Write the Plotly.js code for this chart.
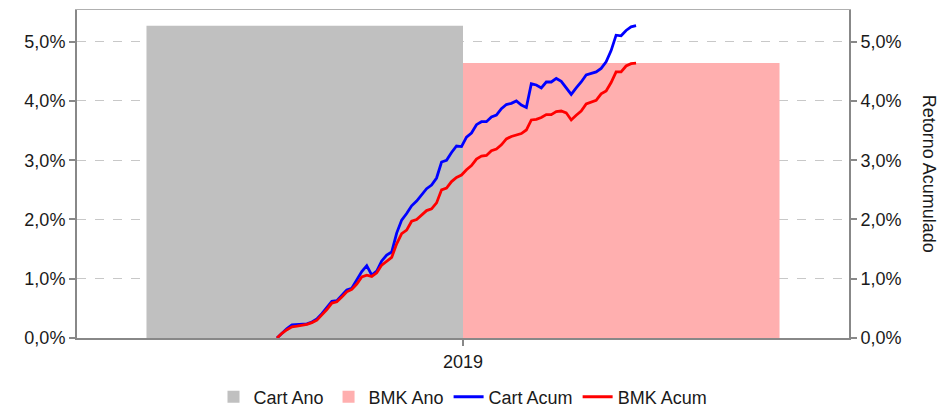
<!DOCTYPE html>
<html>
<head>
<meta charset="utf-8">
<script src="https://cdn.plot.ly/plotly-3.0.1.min.js"></script>
<style>html,body{margin:0;padding:0;background:#fff;}#chart{width:944px;height:409px;}</style>
</head>
<body>
<div id="chart"></div>
<script>
const categories = ['2019'];
const cartAno = [5.27];
const bmkAno = [4.64];

const cartAcum = [0.00,0.08,0.16,0.22,0.23,0.24,0.24,0.27,0.32,0.41,0.51,0.62,0.63,0.72,0.81,0.84,
  0.98,1.12,1.22,1.06,1.13,1.30,1.40,1.45,1.77,1.99,2.10,2.23,2.31,2.41,2.52,2.58,2.70,2.97,3.00,
  3.13,3.24,3.23,3.39,3.46,3.60,3.65,3.65,3.73,3.76,3.87,3.94,3.96,4.00,3.93,3.89,4.29,4.27,4.22,
  4.32,4.32,4.38,4.33,4.22,4.11,4.22,4.32,4.44,4.47,4.49,4.55,4.66,4.85,5.11,5.10,5.19,5.25,5.27];
const bmkAcum = [0.00,0.08,0.14,0.19,0.20,0.21,0.23,0.26,0.30,0.39,0.48,0.59,0.61,0.69,0.78,0.82,
  0.91,1.03,1.06,1.04,1.10,1.23,1.30,1.36,1.59,1.76,1.82,1.97,2.00,2.08,2.15,2.18,2.28,2.50,2.53,
  2.64,2.71,2.75,2.84,2.91,3.02,3.07,3.08,3.16,3.19,3.26,3.36,3.40,3.43,3.45,3.51,3.68,3.69,3.72,
  3.77,3.77,3.82,3.83,3.80,3.68,3.76,3.83,3.95,3.98,4.01,4.12,4.17,4.31,4.49,4.49,4.59,4.63,4.64];
const days = cartAcum.map((_, i) => i);

const yTickVals = [0, 1, 2, 3, 4, 5];
const yTickText = ['0,0%', '1,0%', '2,0%', '3,0%', '4,0%', '5,0%'];

const FONT = 'Liberation Sans, Arial, sans-serif';
const AXC = '#888888';
const yRange = [0, 5.535];

const data = [
  {type:'bar', name:'Cart Ano', x:categories, y:cartAno, marker:{color:'#c0c0c0'}, xaxis:'x', yaxis:'y', hoverinfo:'skip'},
  {type:'bar', name:'BMK Ano', x:categories, y:bmkAno, marker:{color:'#ffafaf'}, xaxis:'x', yaxis:'y', hoverinfo:'skip'},
  {type:'scatter', mode:'lines', name:'Cart Acum', x:days, y:cartAcum, line:{color:'#0000ff', width:2.8}, xaxis:'x2', yaxis:'y2'},
  {type:'scatter', mode:'lines', name:'BMK Acum', x:days, y:bmkAcum, line:{color:'#ff0000', width:2.8}, xaxis:'x2', yaxis:'y2'}
];

const layout = {
  width:944, height:409,
  margin:{l:77, r:95, t:10, b:71, autoexpand:false},
  paper_bgcolor:'#ffffff', plot_bgcolor:'#ffffff',
  font:{family:FONT, size:18, color:'#1a1a1a'},
  barmode:'group', bargap:0.18, bargroupgap:0,
  showlegend:true,
  legend:{orientation:'h', x:0.5, xanchor:'center', xref:'paper', yref:'paper', y:-0.18, yanchor:'middle',
          font:{size:18, color:'#1a1a1a'}, traceorder:'normal'},
  xaxis:{
    type:'category', showline:true, linecolor:AXC, linewidth:2,
    ticks:'outside', tickcolor:AXC, ticklen:6, tickwidth:2, showgrid:false, zeroline:false,
    tickfont:{size:18, color:'#1a1a1a'}
  },
  xaxis2:{
    overlaying:'x', side:'top', range:[-40.1, 114.7], showline:true, linecolor:'#b0b0b0', linewidth:1,
    showticklabels:false, ticks:'', showgrid:false, zeroline:false
  },
  yaxis:{
    range:yRange, tickmode:'array', tickvals:yTickVals, ticktext:yTickText,
    showline:true, linecolor:AXC, linewidth:2, ticks:'outside', tickcolor:AXC, ticklen:6, tickwidth:2,
    showgrid:true, gridcolor:'#c8c8c8', griddash:'dash', gridwidth:1, zeroline:false,
    tickfont:{size:18, color:'#1a1a1a'}
  },
  yaxis2:{
    overlaying:'y', side:'right', range:yRange, tickmode:'array', tickvals:yTickVals, ticktext:yTickText,
    showline:true, linecolor:AXC, linewidth:2, ticks:'outside', tickcolor:AXC, ticklen:6, tickwidth:2,
    showgrid:false, zeroline:false, tickfont:{size:18, color:'#1a1a1a'}
  },
  annotations:[{
    text:'Retorno Acumulado', xref:'paper', yref:'paper', x:1.104, y:0.5, xanchor:'center', yanchor:'middle',
    textangle:90, showarrow:false, font:{size:18, color:'#1a1a1a'}
  }]
};

Plotly.newPlot('chart', data, layout, {staticPlot:true, displayModeBar:false});
</script>
</body>
</html>
